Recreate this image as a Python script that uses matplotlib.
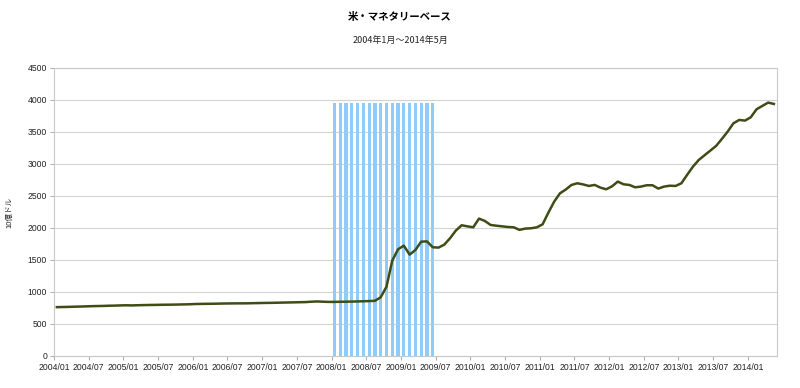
import numpy as np
import matplotlib.pyplot as plt

plt.rcParams['font.family'] = ['Liberation Sans', 'Noto Sans CJK JP', 'DejaVu Sans']

# monthly categories 2004/01 .. 2014/05
months = ["%d/%02d" % (y, m) for y in range(2004, 2015) for m in range(1, 13)][:125]

# monetary base, billions of dollars
base = [
    763, 765, 767, 770, 772, 775, 778, 780, 782, 785, 787, 790,      # 2004
    792, 790, 793, 795, 797, 798, 800, 801, 802, 804, 806, 808,      # 2005
    812, 814, 815, 816, 818, 820, 821, 822, 822, 823, 825, 827,      # 2006
    829, 830, 832, 834, 836, 838, 840, 842, 848, 852, 848, 845,      # 2007
    845, 847, 848, 850, 852, 855, 858, 862, 917, 1083, 1490, 1667,   # 2008
    1724, 1583, 1656, 1786, 1790, 1698, 1693, 1740, 1840, 1960, 2042, 2025,  # 2009
    2010, 2146, 2110, 2047, 2035, 2025, 2015, 2010, 1970, 1990, 1995, 2010,  # 2010
    2057, 2240, 2411, 2541, 2600, 2672, 2698, 2680, 2656, 2672, 2630, 2604,  # 2011
    2650, 2724, 2682, 2672, 2635, 2646, 2667, 2667, 2615, 2646, 2660, 2656,  # 2012
    2698, 2830, 2958, 3062, 3135, 3208, 3281, 3390, 3505, 3635, 3687, 3677,  # 2013
    3729, 3854, 3906, 3958, 3937,                                     # 2014
]

# recession shading bars 2008/01 .. 2009/06
rec_months = ["2008/%02d" % m for m in range(1, 13)] + ["2009/%02d" % m for m in range(1, 7)]
rec_height = [3950, 3950, 3950, 3950, 3950, 3950, 3950, 3950, 3950,
              3950, 3950, 3950, 3950, 3950, 3950, 3950, 3950, 3950]

x = np.arange(len(months))
rec_x = [months.index(mm) for mm in rec_months]

fig = plt.figure(figsize=(8, 3.88), dpi=100)
ax = fig.add_axes([0.0675, 0.0825, 0.9035, 0.7425])

ax.bar(rec_x, rec_height, width=0.55, color='#8ecdfb', zorder=2)
ax.plot(x, base, color='#3f4c15', linewidth=1.8, zorder=3)

ax.set_xlim(-0.5, len(months) - 0.5)
ax.set_ylim(0, 4500)
ax.set_yticks(range(0, 4501, 500))
ax.grid(axis='y', color='#d3d3d3', linewidth=0.8, zorder=0)
tick_pos = [i - 0.5 for i in range(0, len(months), 6)]
ax.set_xticks(tick_pos)
ax.set_xticklabels([months[i] for i in range(0, len(months), 6)])
ax.tick_params(axis='both', labelsize=6.2, colors='#b0b0b0', labelcolor='#222222',
               length=3, width=0.8, pad=2)
for s in ax.spines.values():
    s.set_color('#c8c8c8')
    s.set_linewidth(0.8)

ax.set_ylabel("10億ドル", fontsize=5.5, labelpad=10, color='#222222')
fig.text(0.5, 0.955, "米・マネタリーベース", ha='center', va='center',
         fontsize=7.5, fontweight='bold', family=['Noto Sans CJK JP'])
fig.text(0.5, 0.895, "2004年1月～2014年5月", ha='center', va='center',
         fontsize=6.5, family=['Noto Sans CJK JP'], color='#222222')

fig.savefig("out.png", dpi=100)
